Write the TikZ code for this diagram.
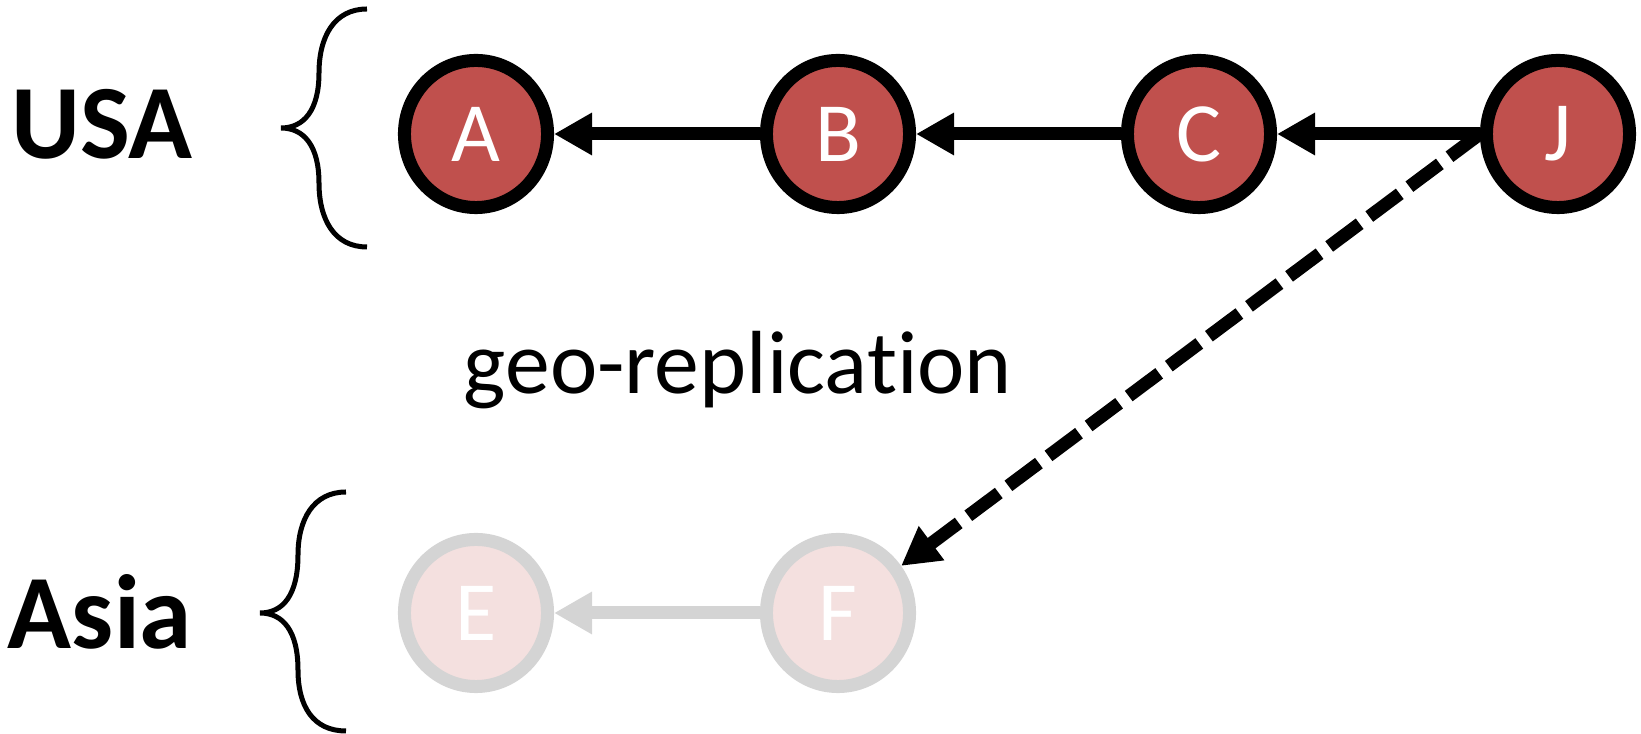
\documentclass[tikz,border=0pt]{standalone}
\usepackage{fontspec}
\setmainfont{Carlito}[Ligatures=NoCommon]
\usetikzlibrary{arrows.meta,shapes.geometric}
\definecolor{nodered}{HTML}{C0504D}
\definecolor{nodepale}{HTML}{F4E0DF}
\definecolor{edgegray}{HTML}{D4D4D4}

\begin{document}
\begin{tikzpicture}[x=0.01cm, y=-0.01cm]
\tikzstyle{every node} = [inner sep=0cm]
\tikzstyle{site} = [ellipse, draw=black, line width=0.13cm, fill=nodered, minimum width=1.43cm, minimum height=1.47cm, text=white, font=\fontsize{24}{24}\selectfont]
\tikzstyle{faded} = [site, draw=edgegray, fill=nodepale]
\tikzstyle{region} = [font=\fontsize{30}{30}\selectfont\bfseries]
\tikzstyle{link} = [line width=0.13cm, -{Triangle[length=0.38cm, width=0.4cm]}]
\tikzstyle{brace} = [line width=0.05cm]
\useasboundingbox (0,0) rectangle (1641,734);
% regions
\node[region] (usa) at (102,124) {USA};
\node[region] (asia) at (100,612) {Asia};
\draw[brace] (367,9) .. controls (334,9) and (319,37) .. (319,73)
	.. controls (319,110) and (304,128) .. (281,128)
	.. controls (304,128) and (319,146) .. (319,183)
	.. controls (319,219) and (334,247) .. (367,247);
\draw[brace] (346,492) .. controls (313,492) and (298,520) .. (298,555)
	.. controls (298,595) and (283,613) .. (260,613)
	.. controls (283,613) and (298,631) .. (298,670)
	.. controls (298,706) and (313,731) .. (346,731);
% sites
\node[site] (a) at (476,134) {A};
\node[site] (b) at (838,134) {B};
\node[site] (c) at (1199,134) {C};
\node[site] (j) at (1558,134) {J};
\node[faded] (e) at (476,613) {E};
\node[faded] (f) at (838,613) {F};
\node (geo) at (738,370) {\fontsize{25.5}{25.5}\selectfont geo-replication};
\draw[link] (b) -- (a);
\draw[link] (c) -- (b);
\draw[link] (j) -- (c);
\draw[link, edgegray] (f) -- (e);
\draw[link, dash pattern=on 0.38cm off 0.12cm] (j.west) -- (f);
\end{tikzpicture}
\end{document}
